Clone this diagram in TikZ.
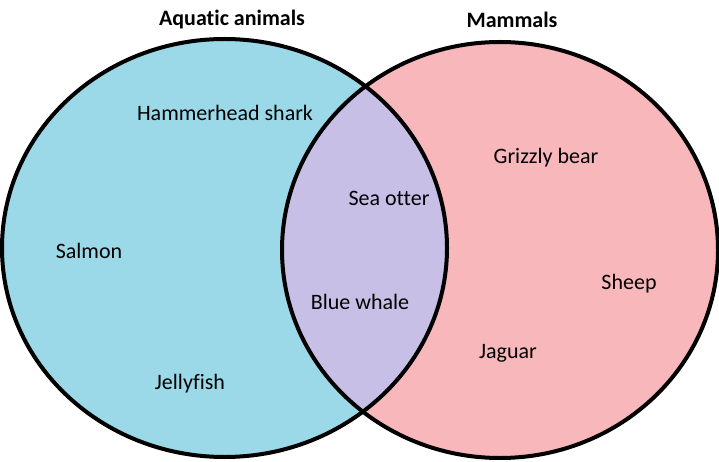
\documentclass[tikz,border=0pt]{standalone}
\usepackage{fontspec}
\setmainfont{Carlito}[Ligatures={NoCommon}]
\definecolor{aquablue}{RGB}{155,216,232}
\definecolor{mammalpink}{RGB}{248,183,187}
\definecolor{bothlilac}{RGB}{200,191,230}

\begin{document}
\begin{tikzpicture}[x=1pt,y=-1pt,font=\fontsize{22}{26}\selectfont,
  setline/.style={draw=black,line width=4pt},
  title/.style={font=\fontsize{22}{26}\selectfont\bfseries}]
\useasboundingbox (0,0) rectangle (719,462);
% les deux ensembles
\fill[aquablue] (224.5,248) ellipse [x radius=222.5, y radius=209];
\fill[mammalpink] (500,250) ellipse [x radius=218, y radius=208];
\begin{scope}
  \clip (224.5,248) ellipse [x radius=222.5, y radius=209];
  \fill[bothlilac] (500,250) ellipse [x radius=218, y radius=208];
\end{scope}
\draw[setline] (224.5,248) ellipse [x radius=222.5, y radius=209];
\draw[setline] (500,250) ellipse [x radius=218, y radius=208];
% titres
\node[title] (aquatic) at (232,20) {Aquatic animals};
\node[title] (mammals) at (512,20) {Mammals};
% elements
\node (shark) at (225,113) {Hammerhead shark};
\node (salmon) at (89,251) {Salmon};
\node (jelly) at (190,384) {Jellyfish};
\node (otter) at (389,198) {Sea otter};
\node (whale) at (360,302) {Blue whale};
\node (grizzly) at (546,158) {Grizzly bear};
\node (sheep) at (629,284) {Sheep};
\node (jaguar) at (508,353) {Jaguar};
\end{tikzpicture}
\end{document}
